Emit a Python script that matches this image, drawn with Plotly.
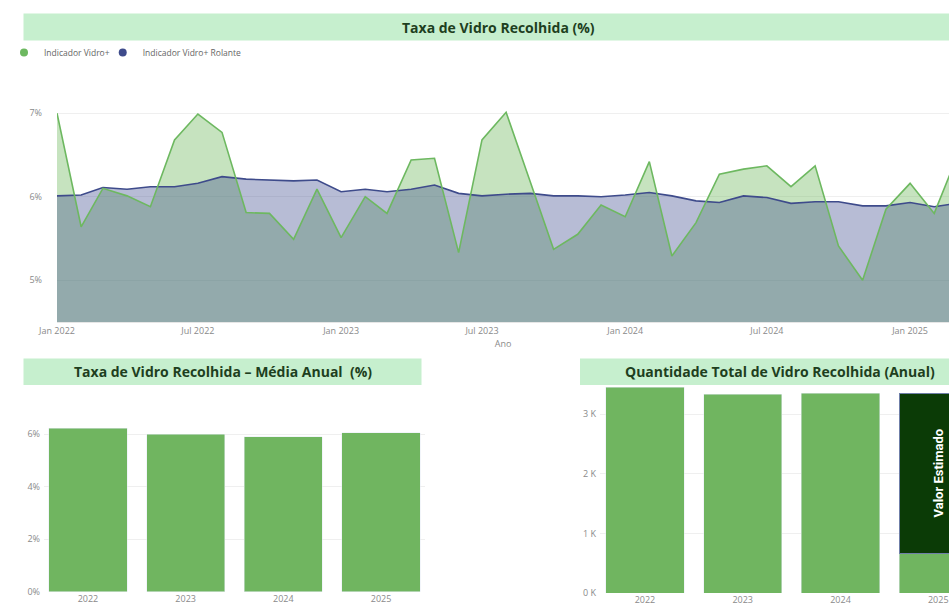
import plotly.graph_objects as go

W, H = 949, 606

def fx(px):
    return px / W

def fy(py):
    return 1 - py / H

# ---------------- data ----------------
months = [
    "2022-01-01", "2022-02-01", "2022-03-01", "2022-04-01", "2022-05-01", "2022-06-01",
    "2022-07-01", "2022-08-01", "2022-09-01", "2022-10-01", "2022-11-01", "2022-12-01",
    "2023-01-01", "2023-02-01", "2023-03-01", "2023-04-01", "2023-05-01", "2023-06-01",
    "2023-07-01", "2023-08-01", "2023-09-01", "2023-10-01", "2023-11-01", "2023-12-01",
    "2024-01-01", "2024-02-01", "2024-03-01", "2024-04-01", "2024-05-01", "2024-06-01",
    "2024-07-01", "2024-08-01", "2024-09-01", "2024-10-01", "2024-11-01", "2024-12-01",
    "2025-01-01", "2025-02-01", "2025-03-01",
]
indicador_vidro = [
    7.00, 5.64, 6.10, 6.01, 5.88, 6.68, 6.99, 6.77, 5.81, 5.80, 5.49, 6.09,
    5.51, 6.00, 5.80, 6.44, 6.46, 5.33, 6.68, 7.01, 6.18, 5.37, 5.55, 5.90,
    5.76, 6.42, 5.29, 5.69, 6.27, 6.33, 6.37, 6.12, 6.37, 5.41, 5.00, 5.85,
    6.16, 5.80, 6.45,
]
indicador_rolante = [
    6.01, 6.02, 6.11, 6.09, 6.12, 6.12, 6.16, 6.24, 6.21, 6.20, 6.19, 6.20,
    6.06, 6.09, 6.06, 6.09, 6.14, 6.04, 6.01, 6.03, 6.04, 6.01, 6.01, 6.00,
    6.02, 6.05, 6.01, 5.95, 5.93, 6.01, 5.99, 5.92, 5.94, 5.94, 5.89, 5.89,
    5.93, 5.88, 5.92,
]
anos = ["2022", "2023", "2024", "2025"]
media_anual = [6.23, 6.00, 5.91, 6.05]
quantidade_real = [3450, 3335, 3350, 670]
anos_estimado = ["2025"]
quantidade_estimada = [2680]
k_tickvals = [0, 1000, 2000, 3000]
k_ticktext = ["0 K", "1 K", "2 K", "3 K"]
pct_tickvals = [0, 2, 4, 6]
pct_ticktext = ["0%", "2%", "4%", "6%"]
top_tickvals = [5, 6, 7]
top_ticktext = ["5%", "6%", "7%"]

# ---------------- styles ----------------
FONT = "Segoe UI, 'Open Sans', sans-serif"
GREEN = "#6DB860"
BLUE = "#3E4B8B"
BAR_GREEN = "#70B560"
DARK = "#0B3B06"
TITLE_BG = "#C6EFCE"
TITLE_FG = "#1E3F1E"
TICK = "#8A8A8A"
GRID = "#EFEFEF"

fig = go.Figure()

# area fills
fig.add_trace(go.Scatter(x=months, y=indicador_vidro, mode="none", fill="tozeroy",
                         fillcolor="rgba(112,184,96,0.40)", showlegend=False,
                         hoverinfo="skip", xaxis="x", yaxis="y"))
fig.add_trace(go.Scatter(x=months, y=indicador_rolante, mode="none", fill="tozeroy",
                         fillcolor="rgba(60,72,140,0.37)", showlegend=False,
                         hoverinfo="skip", xaxis="x", yaxis="y"))
# lines
fig.add_trace(go.Scatter(x=months, y=indicador_rolante, mode="lines",
                         line=dict(color=BLUE, width=1.6), name="Indicador Vidro+ Rolante",
                         showlegend=False, xaxis="x", yaxis="y"))
fig.add_trace(go.Scatter(x=months, y=indicador_vidro, mode="lines",
                         line=dict(color=GREEN, width=1.6), name="Indicador Vidro+",
                         showlegend=False, xaxis="x", yaxis="y"))
# legend entries
fig.add_trace(go.Scatter(x=[None], y=[None], mode="markers",
                         marker=dict(color=GREEN, size=8), name="Indicador Vidro+",
                         xaxis="x", yaxis="y"))
fig.add_trace(go.Scatter(x=[None], y=[None], mode="markers",
                         marker=dict(color=BLUE, size=8), name="Indicador Vidro+ Rolante",
                         xaxis="x", yaxis="y"))

# bottom-left bars
fig.add_trace(go.Bar(x=anos, y=media_anual, marker=dict(color=BAR_GREEN),
                     showlegend=False, xaxis="x2", yaxis="y2"))

# bottom-right stacked bars
fig.add_trace(go.Bar(x=anos, y=quantidade_real, marker=dict(color=BAR_GREEN),
                     showlegend=False, xaxis="x3", yaxis="y3"))
fig.add_trace(go.Bar(x=anos_estimado, y=quantidade_estimada,
                     marker=dict(color=DARK, line=dict(color="#6F7FA8", width=1)),
                     text=["Valor Estimado"], textposition="inside", textangle=-90,
                     insidetextanchor="middle", constraintext="none", cliponaxis=False,
                     textfont=dict(color="white", size=13, family="Roboto", weight="bold"),
                     showlegend=False, xaxis="x3", yaxis="y3"))

tickfont = dict(family=FONT, size=9, color=TICK)

fig.update_layout(
    width=W, height=H,
    margin=dict(l=0, r=0, t=0, b=0, autoexpand=False),
    paper_bgcolor="white", plot_bgcolor="white",
    barmode="stack", bargap=0.2,
    font=dict(family=FONT),
    legend=dict(orientation="h", x=fx(16), y=fy(38), xanchor="left", yanchor="top",
                font=dict(family=FONT, size=8.5, color="#666666"),
                itemwidth=30, indentation=-12, bgcolor="rgba(0,0,0,0)",
                traceorder="normal", tracegroupgap=0),
    xaxis=dict(domain=[fx(57), 1.0], anchor="y", type="date",
               range=["2022-01-01", "2025-02-20"],
               tick0="2022-01-01", dtick="M6", tickformat="%b %Y",
               showgrid=False, zeroline=False, showline=True, linecolor="#E6E6E6",
               ticks="", tickfont=tickfont, automargin=False,
               title=dict(text="Ano", font=dict(family=FONT, size=9, color=TICK), standoff=0)),
    yaxis=dict(domain=[fy(322), fy(109)], anchor="x", range=[4.5, 7.05],
               tickmode="array", tickvals=top_tickvals, ticktext=top_ticktext,
               showgrid=True, gridcolor=GRID, automargin=False,
               zeroline=False, ticks="", tickfont=tickfont, ticklabelstandoff=14),
    xaxis2=dict(domain=[fx(44), fx(425)], anchor="y2", type="category", range=[-0.45, 3.45],
                showgrid=False, zeroline=False, showline=False, ticks="",
                tickfont=tickfont, automargin=False),
    yaxis2=dict(domain=[fy(591.7), fy(408)], anchor="x2", range=[0, 7],
                tickmode="array", tickvals=pct_tickvals, ticktext=pct_ticktext,
                showgrid=True, gridcolor=GRID, automargin=False,
                zeroline=False, ticks="", tickfont=tickfont, ticklabelstandoff=3),
    xaxis3=dict(domain=[fx(600), 1.0], anchor="y3", type="category", range=[-0.46, 3.11],
                showgrid=False, zeroline=False, showline=False, ticks="",
                tickfont=tickfont, automargin=False),
    yaxis3=dict(domain=[fy(593), fy(384.4)], anchor="x3", range=[0, 3500],
                tickmode="array", tickvals=k_tickvals, ticktext=k_ticktext,
                showgrid=True, gridcolor=GRID, automargin=False,
                zeroline=False, ticks="", tickfont=tickfont, ticklabelstandoff=3),
)

# title boxes
boxes = [(23.5, 13.5, 949, 40.5), (23.5, 358.5, 421.5, 385), (580, 358.5, 949, 385)]
for x0, y0, x1, y1 in boxes:
    fig.add_shape(type="rect", xref="paper", yref="paper",
                  x0=fx(x0), x1=fx(x1), y0=fy(y1), y1=fy(y0),
                  fillcolor=TITLE_BG, line=dict(width=0), layer="below")

titles = [
    ("Taxa de Vidro Recolhida (%)", 498, 27.5),
    ("Taxa de Vidro Recolhida – Média Anual  (%)", 222.5, 371.7),
    ("Quantidade Total de Vidro Recolhida (Anual)", 780, 371.7),
]
for text, cx, cy in titles:
    fig.add_annotation(text=text, xref="paper", yref="paper", x=fx(cx), y=fy(cy),
                       xanchor="center", yanchor="middle", showarrow=False,
                       font=dict(family="'Open Sans', sans-serif", size=14,
                                 color=TITLE_FG, weight="bold"))

fig.write_html("out.html", config={"displayModeBar": False},
               post_script="document.body.style.margin='0';document.body.style.padding='0';")
